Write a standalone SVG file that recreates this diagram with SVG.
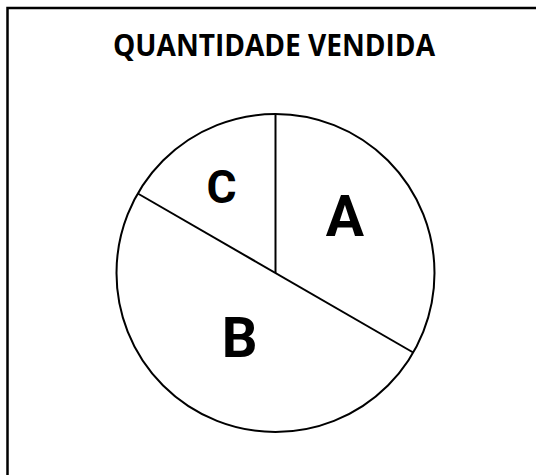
<svg xmlns="http://www.w3.org/2000/svg" width="536" height="475" viewBox="0 0 536 475">
<style>
.ln{fill:none;stroke:#000;stroke-width:2}
.lbl{font-family:Roboto,"Liberation Sans",sans-serif;font-weight:bold;text-anchor:middle;fill:#000}
.title{font-family:"Open Sans","Liberation Sans",sans-serif;font-weight:bold;font-size:29.5px;text-anchor:middle;fill:#000}
</style>
<rect width="536" height="475" fill="#fff"/>
<path d="M7.5 480 V8 H540" fill="none" stroke="#000" stroke-width="2.5"/>
<text class="title" x="274" y="55.5" textLength="322" lengthAdjust="spacingAndGlyphs">QUANTIDADE VENDIDA</text>
<g id="pie">
<circle class="ln" cx="275.5" cy="273" r="159"/>
</g>
<g id="connectors">
<line class="ln" x1="275.5" y1="114" x2="275.5" y2="273"/>
<line class="ln" x1="137.8" y1="193.5" x2="413.2" y2="352.5"/>
</g>
<g id="sliceA"><text class="lbl" x="345" y="236" font-size="57">A</text></g>
<g id="sliceB"><text class="lbl" x="239.5" y="357" font-size="56">B</text></g>
<g id="sliceC"><text class="lbl" x="221.5" y="202.5" font-size="46">C</text></g>
</svg>
